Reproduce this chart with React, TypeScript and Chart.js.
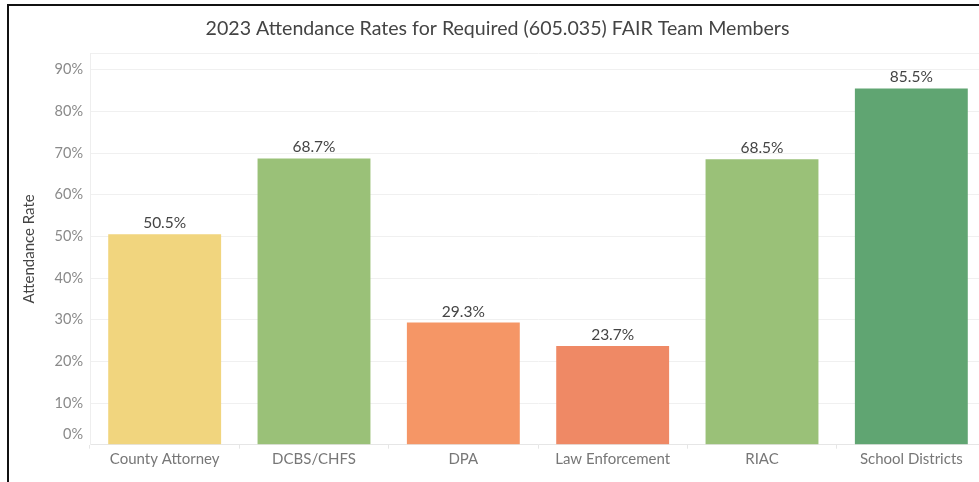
import React, { useEffect, useRef } from "react";
import { Chart, registerables } from "chart.js";

Chart.register(...registerables);

const categories = ["County Attorney", "DCBS/CHFS", "DPA", "Law Enforcement", "RIAC", "School Districts"];
const attendance = [50.5, 68.7, 29.3, 23.7, 68.5, 85.5];
const barColors = ["#F1D57E", "#9AC178", "#F59666", "#EF8965", "#9AC178", "#60A572"];
const yTicks = [0, 10, 20, 30, 40, 50, 60, 70, 80, 90];
const titleText = "2023 Attendance Rates for Required (605.035) FAIR Team Members";
const yAxisTitle = "Attendance Rate";

const FONT = "Lato, 'Open Sans', sans-serif";

const overlayPlugin = {
  id: "overlay",
  afterDatasetsDraw(chart: any) {
    const { ctx, scales } = chart;
    const y = scales.y;
    const meta = chart.getDatasetMeta(0);
    ctx.save();
    // value labels
    ctx.font = `15.5px ${FONT}`;
    ctx.fillStyle = "#444";
    ctx.textAlign = "center";
    ctx.textBaseline = "alphabetic";
    meta.data.forEach((bar: any, i: number) => {
      ctx.fillText(attendance[i].toFixed(1) + "%", bar.x, bar.y - 6);
    });
    // y tick labels
    ctx.font = `14.5px ${FONT}`;
    ctx.fillStyle = "#8a8a8a";
    ctx.textAlign = "right";
    ctx.textBaseline = "middle";
    yTicks.forEach((v) => {
      const py = y.getPixelForValue(v) - (v === 0 ? 10 : 0);
      ctx.fillText(v + "%", chart.chartArea.left - 7, py);
    });
    // y axis title
    ctx.font = `15px ${FONT}`;
    ctx.fillStyle = "#444";
    ctx.textAlign = "center";
    ctx.translate(20, y.getPixelForValue(47));
    ctx.rotate(-Math.PI / 2);
    ctx.fillText(yAxisTitle, 0, 0);
    ctx.restore();
  },
};

export default function App() {
  const ref = useRef<HTMLCanvasElement | null>(null);
  useEffect(() => {
    if (!ref.current) return;
    const chart = new Chart(ref.current, {
      type: "bar",
      data: {
        labels: categories,
        datasets: [
          {
            data: attendance,
            backgroundColor: barColors,
            barPercentage: 0.756,
            categoryPercentage: 1,
          },
        ],
      },
      plugins: [overlayPlugin],
      options: {
        animation: false,
        responsive: false,
        maintainAspectRatio: false,
        layout: { padding: { left: 0, right: 0, top: 0, bottom: 0 } },
        plugins: {
          legend: { display: false },
          tooltip: { enabled: false },
          title: {
            display: true,
            text: titleText,
            color: "#444",
            font: { family: FONT, size: 19.6, weight: "normal", lineHeight: 1.2 },
            padding: { top: 11, bottom: 12.5 },
          },
        },
        scales: {
          x: {
            offset: true,
            grid: {
              display: true,
              offset: true,
              drawOnChartArea: false,
              drawTicks: true,
              tickLength: 4,
              color: "#e6e6e6",
            },
            border: { display: true, color: "#e6e6e6" },
            ticks: {
              color: "#777",
              font: { family: FONT, size: 15 },
              padding: 1,
              maxRotation: 0,
              autoSkip: false,
            },
            afterFit: (s: any) => {
              s.height = 37.3;
            },
          },
          y: {
            min: 0,
            max: 94,
            ticks: { display: false, stepSize: 10 },
            grid: { color: "#f0f0f0", drawTicks: false },
            border: { display: true, color: "#eeeeee" },
            afterFit: (s: any) => {
              s.width = 81;
            },
          },
        },
      },
    });
    return () => chart.destroy();
  }, []);

  return (
    <div
      style={{
        position: "fixed",
        left: 0,
        top: 0,
        width: 979,
        height: 482,
        overflow: "hidden",
        background: "#fff",
      }}
    >
      <div
        style={{
          position: "absolute",
          left: 7,
          top: 4,
          width: 1000,
          height: 490,
          borderLeft: "2px solid #111",
          borderTop: "2px solid #111",
        }}
      >
        <canvas ref={ref} width={977} height={476} style={{ display: "block", width: 977, height: 476 }} />
      </div>
    </div>
  );
}
